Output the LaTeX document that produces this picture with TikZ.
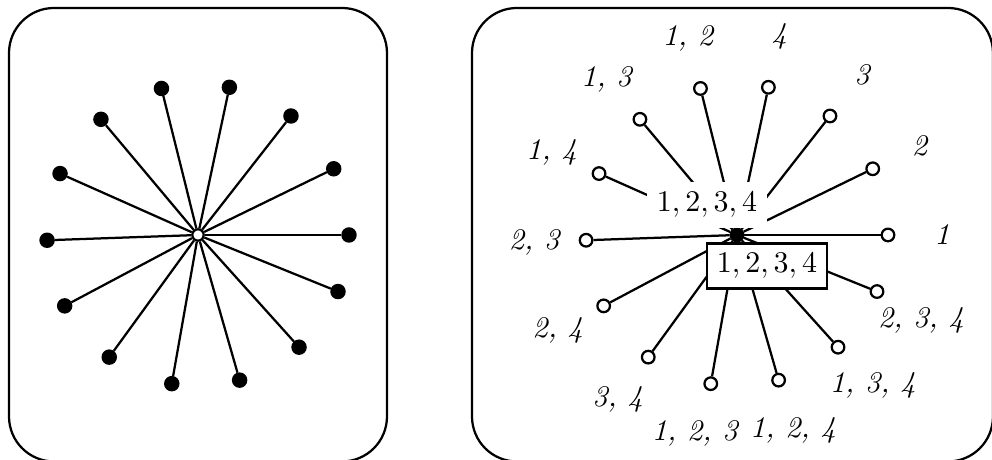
\documentclass[tikz,border=0pt]{standalone}
\usetikzlibrary{positioning}
\tikzset{
  blackdot/.style={circle,fill=black,draw=black,inner sep=0pt,minimum size=4.4pt},
  opendot/.style={circle,fill=white,draw=black,inner sep=0pt,minimum size=4.2pt},
  hub/.style={circle,fill=white,draw=black,inner sep=0pt,minimum size=3.8pt},
  setlabel/.style={font=\itshape},
  frame/.style={rounded corners=15pt},
}
\begin{document}
\begin{tikzpicture}[x=0.3333pt,y=0.3333pt,line width=0.75pt]
\useasboundingbox (0,0) rectangle (992,460);
\draw[frame] (9,-1.5) rectangle (387,452);
\draw[frame] (472,-1.5) rectangle (993,452);

\begin{scope}[shift={(198,225)}]
 \node[hub] (lc) at (0,0) {};
 \node[blackdot] (l1) at (0:151) {};
 \node[blackdot] (l2) at (26:151) {};
 \node[blackdot] (l3) at (52:151) {};
 \node[blackdot] (l4) at (78:151) {};
 \node[blackdot] (l12) at (104:151) {};
 \node[blackdot] (l13) at (130:151) {};
 \node[blackdot] (l14) at (156:151) {};
 \node[blackdot] (l23) at (182:151) {};
 \node[blackdot] (l24) at (208:151) {};
 \node[blackdot] (l34) at (234:151) {};
 \node[blackdot] (l123) at (260:151) {};
 \node[blackdot] (l124) at (286:151) {};
 \node[blackdot] (l134) at (312:151) {};
 \node[blackdot] (l234) at (338:151) {};
 \draw (lc) -- (l1);
 \draw (lc) -- (l2);
 \draw (lc) -- (l3);
 \draw (lc) -- (l4);
 \draw (lc) -- (l12);
 \draw (lc) -- (l13);
 \draw (lc) -- (l14);
 \draw (lc) -- (l23);
 \draw (lc) -- (l24);
 \draw (lc) -- (l34);
 \draw (lc) -- (l123);
 \draw (lc) -- (l124);
 \draw (lc) -- (l134);
 \draw (lc) -- (l234);
\end{scope}

\begin{scope}[shift={(737,225)}]
 \node[blackdot,minimum size=4.2pt] (rc) at (0,0) {};
 \node[opendot] (r1) at (0:151) {};
 \node[opendot] (r2) at (26:151) {};
 \node[opendot] (r3) at (52:151) {};
 \node[opendot] (r4) at (78:151) {};
 \node[opendot] (r12) at (104:151) {};
 \node[opendot] (r13) at (130:151) {};
 \node[opendot] (r14) at (156:151) {};
 \node[opendot] (r23) at (182:151) {};
 \node[opendot] (r24) at (208:151) {};
 \node[opendot] (r34) at (234:151) {};
 \node[opendot] (r123) at (260:151) {};
 \node[opendot] (r124) at (286:151) {};
 \node[opendot] (r134) at (312:151) {};
 \node[opendot] (r234) at (338:151) {};
 \node[setlabel] (t1) at (0:205) {1};
 \node[setlabel] (t2) at (26:203) {2};
 \node[setlabel] (t3) at (52:203) {3};
 \node[setlabel] (t4) at (78:203) {4};
 \node[setlabel] (t12) at (104:203) {1, 2};
 \node[setlabel] (t13) at (130:203) {1, 3};
 \node[setlabel] (t14) at (156:203) {1, 4};
 \node[setlabel] (t23) at (182:203) {2, 3};
 \node[setlabel] (t24) at (208:203) {2, 4};
 \node[setlabel] (t34) at (234:203) {3, 4};
 \node[setlabel] (t123) at (258:203) {1, 2, 3};
 \node[setlabel] (t124) at (286:203) {1, 2, 4};
 \node[setlabel] (t134) at (312:203) {1, 3, 4};
 \node[setlabel] (t234) at (335:203) {2, 3, 4};
 \draw (rc) -- (r1);
 \draw (rc) -- (r2);
 \draw (rc) -- (r3);
 \draw (rc) -- (r4);
 \draw (rc) -- (r12);
 \draw (rc) -- (r13);
 \draw (rc) -- (r14);
 \draw (rc) -- (r23);
 \draw (rc) -- (r24);
 \draw (rc) -- (r34);
 \draw (rc) -- (r123);
 \draw (rc) -- (r124);
 \draw (rc) -- (r134);
 \draw (rc) -- (r234);
 \node[fill=white] (upper) at (-30,30) {$1,2,3,4$};
 \node[draw,fill=white] (lower) at (30,-31) {$1,2,3,4$};
\end{scope}
\end{tikzpicture}
\end{document}
